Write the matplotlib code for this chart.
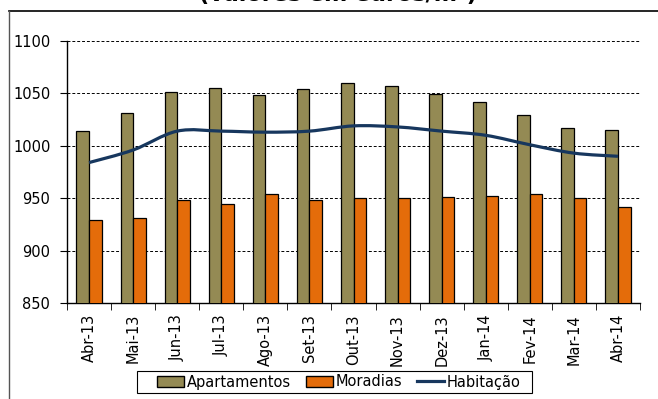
import matplotlib
matplotlib.use("Agg")
import matplotlib.pyplot as plt
import numpy as np
from matplotlib.path import Path
from matplotlib.patches import PathPatch, Patch, Rectangle
from matplotlib.lines import Line2D

# valores em euros/m2
meses = ["Abr-13", "Mai-13", "Jun-13", "Jul-13", "Ago-13", "Set-13", "Out-13",
         "Nov-13", "Dez-13", "Jan-14", "Fev-14", "Mar-14", "Abr-14"]
apartamentos = [1014, 1031, 1051, 1055, 1048, 1054, 1060, 1057, 1049, 1042, 1029, 1017, 1015]
moradias = [929, 931, 948, 944, 954, 948, 950, 950, 951, 952, 954, 950, 942]
habitacao = [984, 996, 1014, 1014, 1013, 1014, 1019, 1018, 1014, 1010, 1001, 993, 990]

COR_APART = "#948A54"
COR_MORAD = "#E46C0A"
COR_HAB = "#17375E"

plt.rcParams["font.family"] = "DejaVu Sans"

fig = plt.figure(figsize=(6.58, 3.99), dpi=100)
ax = fig.add_axes([67 / 658, 1 - 303 / 399, (640 - 67) / 658, (303 - 41) / 399])

x = np.arange(len(meses))
w = 0.285
ax.bar(x - w / 2, apartamentos, width=w, color=COR_APART, edgecolor="black",
       linewidth=0.9, zorder=3)
ax.bar(x + w / 2, moradias, width=w, color=COR_MORAD, edgecolor="black",
       linewidth=0.9, zorder=3)

# smoothed line (bezier through the points, like excel)
y = np.array(habitacao, dtype=float)
verts = [(x[0], y[0])]
codes = [Path.MOVETO]
for i in range(len(x) - 1):
    x0, y0 = x[max(i - 1, 0)], y[max(i - 1, 0)]
    x1, y1 = x[i], y[i]
    x2, y2 = x[i + 1], y[i + 1]
    x3, y3 = x[min(i + 2, len(x) - 1)], y[min(i + 2, len(x) - 1)]
    c1 = (x1 + (x2 - x0) / 6, y1 + (y2 - y0) / 6)
    c2 = (x2 - (x3 - x1) / 6, y2 - (y3 - y1) / 6)
    verts += [c1, c2, (x2, y2)]
    codes += [Path.CURVE4] * 3
ax.add_patch(PathPatch(Path(verts, codes), fill=False, edgecolor=COR_HAB,
                       linewidth=2.3, zorder=4, capstyle="butt"))

ax.set_xlim(-0.5, len(meses) - 0.5)
ax.set_ylim(850, 1100)
ax.set_yticks(np.arange(850, 1101, 50))
ax.tick_params(axis="y", labelsize=10.5, length=5, direction="out", pad=7)
ax.set_xticks(x)
ax.set_xticklabels(meses, rotation=90, fontsize=10.5)
ax.tick_params(axis="x", which="major", length=0, pad=8)
ax.set_xticks(np.arange(-0.5, len(meses), 1), minor=True)
ax.tick_params(axis="x", which="minor", length=5, direction="out")

for g in [900, 950, 1000, 1050, 1100]:
    ax.axhline(g, color="black", linestyle=(0, (3, 2)), linewidth=0.7, zorder=1)

for s in ["top", "right"]:
    ax.spines[s].set_visible(False)
for s in ["left", "bottom"]:
    ax.spines[s].set_linewidth(1.0)

# chart area frame (only top and left visible)
fig.add_artist(Line2D([9 / 658, 1], [1 - 11 / 399, 1 - 11 / 399], color="black",
                      linewidth=1.2, transform=fig.transFigure))
fig.add_artist(Line2D([9 / 658, 9 / 658], [0, 1 - 11 / 399], color="#555555",
                      linewidth=1.0, transform=fig.transFigure))

fig.text(338 / 658, 1 - 5 / 399, "(valores em euros/m²)", ha="center", va="bottom",
         fontsize=16, fontweight="bold")

handles = [Patch(facecolor=COR_APART, edgecolor="black", label="Apartamentos"),
           Patch(facecolor=COR_MORAD, edgecolor="black", label="Moradias"),
           Line2D([], [], color=COR_HAB, linewidth=2.3, label="Habitação")]
leg = fig.legend(handles=handles, loc="center", bbox_to_anchor=(339 / 658, 1 - 382 / 399),
                 ncol=3, fontsize=10.5, frameon=False, borderpad=0.2,
                 handlelength=1.85, handleheight=0.7, handletextpad=0.2, columnspacing=1.0,
                 borderaxespad=0)
# legend box drawn separately (wider padding than the legend frame allows)
fig.add_artist(Rectangle((137 / 658, 1 - 393 / 399), (532 - 137) / 658, 22 / 399,
                         transform=fig.transFigure, fill=False, edgecolor="black",
                         linewidth=0.8))

fig.savefig("out.png", dpi=100)
